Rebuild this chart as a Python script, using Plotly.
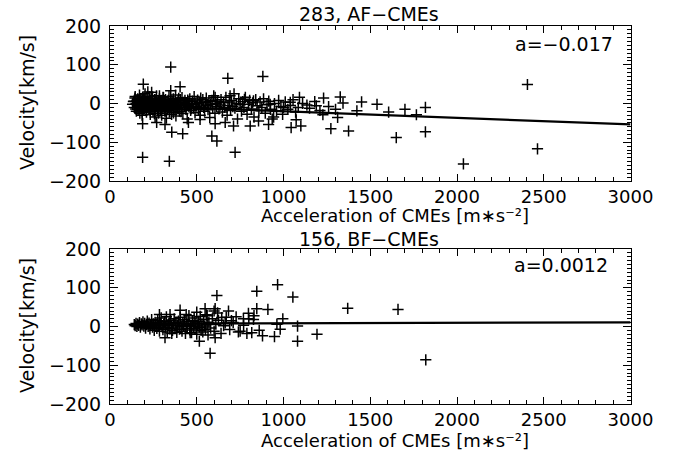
import plotly.graph_objects as go

# ---------------- data ----------------
top_acc = [
    # outliers / sparse points
    350, 679, 881, 192, 350, 404, 240, 285, 144, 192, 523, 606, 692, 775, 827,
    923, 1000, 1039, 1092, 1135, 1189, 1231, 1327, 1343, 1423, 1227, 1273, 1312,
    1375, 1044, 1073, 1100, 943, 914, 808, 856, 712, 664, 587, 616, 721, 188,
    342, 356, 419, 188, 317, 452, 519, 606, 269, 1539, 1606, 1650, 1818, 1818,
    1766, 2037, 2406, 2464, 1450, 1700,
    # dense band
    130, 135, 140, 145, 150, 152, 155, 158, 160, 162, 165, 168, 170, 172, 175,
    178, 180, 182, 185, 188, 190, 192, 195, 198, 200, 202, 205, 208, 210, 212,
    215, 218, 220, 222, 225, 228, 230, 232, 235, 238, 240, 242, 245, 248, 250,
    255, 258, 260, 262, 265, 268, 270, 275, 278, 280, 282, 285, 288, 290, 292,
    295, 298, 300, 305, 308, 310, 315, 318, 320, 322, 325, 328, 330, 335, 338,
    340, 342, 345, 348, 350, 355, 358, 360, 365, 368, 370, 375, 378, 380, 385,
    388, 392, 395, 400, 405, 408, 412, 415, 420, 425, 428, 432, 438, 440, 445,
    450, 455, 460, 465, 470, 475, 480, 485, 490, 495, 500, 505, 510, 515, 520,
    528, 535, 540, 545, 550, 555, 560, 565, 570, 575, 580, 588, 592, 598, 605,
    610, 615, 620, 628, 635, 640, 648, 655, 660, 668, 675, 680, 688, 695, 700,
    708, 715, 720, 728, 735, 742, 750, 758, 765, 772, 780, 790, 798, 805, 815,
    822, 830, 840, 848, 858, 865, 875, 885, 895, 905, 915, 925, 935, 948, 960,
    972, 985, 995, 1010, 1025, 1040, 1055, 1070, 1085, 1110, 1150, 1180, 1210,
    1260, 1300,
    # extra band points
    138, 148, 166, 176, 186, 196, 206, 216, 226, 236, 246, 256, 266, 276, 286,
    296, 306, 316, 326, 336, 346, 356, 366, 376, 386, 396, 410, 430, 448, 468,
]
top_vel = [
    94, 65, 70, 50, 33, 43, 29, 20, 14, 11, 14, 16, 20, 11, 7,
    -2, -10, 3, 16, -4, -6, 14, 17, 1, -19, -29, -65, -36,
    -71, -62, -42, -58, -35, -54, -58, -45, -58, -49, -84, -97, -126, -139,
    -149, -74, -78, -52, -54, -49, -41, -52, -49, -2, -22, -88, -10, -73,
    -29, -156, 49, -117, 4, -15,
    -2, 5, -10, 18, 0, -20, 8, -5, 12, -15, 3, -8, 22, -25, -2,
    10, -12, 5, -30, 15, -4, 0, -18, 8, -8, 25, -3, 12, -22, 2,
    -10, 30, -5, 6, -15, 18, -1, -28, 9, -7, 3, -12, 14, -20, 0,
    -6, 10, -35, 4, -9, 20, -3, -15, 7, -25, 1, 12, -8, -18, 5,
    -2, -30, 8, -12, 15, -5, 2, -20, 10, -8, -38, 3, -14, 6, -4,
    18, -22, 0, -10, 8, -28, 4, -6, 12, -16, 0, -8, 22, -32, 2,
    -12, 7, -4, -20, 10, -2, -10, 15, -26, 3, -6, 8, -15, 0, -40,
    5, -8, 12, -18, -3, 6, -12, 18, -24, 0, -7, 9, -15, 3, -30,
    -4, 10, -10, -20, 2, 14, -6, -16, 5, -36, -2, 8, -12, 20, -25,
    0, -8, 6, -14, -4, 10, -22, 2, -10, 16, -30, -5, 4, -18, 8,
    -8, 25, -12, 0, -40, 12, -3, -20, 5, -10, 16, -28, -2, 8, -14,
    2, -35, 10, -6, -18, 4, -10, 12, -25, -3, 6, -15, -40, 0, -20,
    8, -8, -28, 4, -15, -5, 10, -22, -10, 0, -12, 5, -18,
    -8, -15,
    6, -14, 9, -6, -22, 13, -10, 4, -17, 7, -1, -26, 11, -13, 2,
    -9, 16, -19, -3, 8, -11, 1, -24, 5, -7, 13, -21, -4, 9, -13,
]

bot_acc = [
    # outliers / sparse points
    966, 846, 1054, 616, 1370, 1660, 1193, 1081, 577, 515, 606, 317, 356, 879,
    948, 846, 910, 996, 1081, 981, 962, 827, 798, 769, 727, 683, 606, 548, 500,
    404, 439, 346, 285, 644, 664, 817, 789, 750, 462, 1820, 700, 620, 600, 560,
    # dense band
    140, 145, 150, 155, 160, 165, 170, 175, 180, 185, 190, 195, 200, 205, 210,
    215, 220, 225, 230, 235, 240, 245, 250, 255, 260, 265, 270, 275, 280, 285,
    290, 295, 300, 305, 310, 315, 320, 325, 330, 335, 340, 345, 350, 355, 360,
    365, 370, 375, 380, 385, 390, 395, 400, 405, 410, 415, 420, 425, 430, 435,
    440, 445, 450, 455, 460, 465, 470, 475, 480, 485, 490, 495, 500, 505, 510,
    515, 520, 525, 530, 535, 540, 545, 550, 555, 560, 565, 570, 580, 590, 600,
    610, 625, 640, 655, 670, 690, 710, 740, 770, 800, 830, 860,
]
bot_vel = [
    108, 91, 76, 80, 47, 44, -20, -38, -69, -38, -29, -29, -18, -24,
    -26, 46, 44, 20, 1, -7, 6, 18, 34, 20, 25, 40, 46, 46, 37,
    42, 31, 31, 31, 23, 9, -16, -18, -12, -16, -86, 15, 35, 40, 28,
    5, 2, 8, 0, 6, 3, 10, -2, 7, 4, 12, 1, 8, -4, 5,
    14, 0, 9, -6, 3, 18, -2, 7, -10, 11, 2, -5, 15, 4, -12,
    8, 22, 1, -8, 6, 12, -3, 25, -14, 5, 9, -6, 16, 2, -10,
    7, 20, -4, 10, -15, 3, 14, -7, 24, 0, -12, 8, 2, 18, -18,
    6, -5, 12, 28, -9, 3, -16, 15, 0, 22, -6, 9, -20, 4, 13,
    -2, 26, -10, 7, -14, 18, 1, -8, 30, 5, -22, 11, -4, 20, -12,
    6, 16, -18, 2, 24, -8, 10, -14, 3, 20, 28, -10, -20, 12,
    -6, 24, 8, -12, 15, 30, 2, -16, 12, 26, 5, -20,
]

top_fit = (-3.0, -0.017)   # intercept, slope
bot_fit = (7.0, 0.0012)

x_ticks = [0, 500, 1000, 1500, 2000, 2500, 3000]
y_ticks = [-200, -100, 0, 100, 200]
y_tick_text = ["\u2212200", "\u2212100", "0", "100", "200"]

# ---------------- figure ----------------
FONT = "DejaVu Sans"
FS = 19
FSX = 18
fig = go.Figure()

marker = dict(symbol="cross-thin", size=8, color="black",
              line=dict(color="black", width=1.5))

for acc, vel, fit, xa, ya in [(top_acc, top_vel, top_fit, "x", "y"),
                              (bot_acc, bot_vel, bot_fit, "x2", "y2")]:
    fig.add_trace(go.Scatter(x=acc, y=vel, mode="markers", marker=marker,
                             xaxis=xa, yaxis=ya, showlegend=False,
                             hoverinfo="skip"))
    x0 = min(acc)
    x1 = 3000
    fig.add_trace(go.Scatter(x=[x0, x1], y=[fit[0] + fit[1] * x0, fit[0] + fit[1] * x1],
                             mode="lines", line=dict(color="black", width=2.2),
                             xaxis=xa, yaxis=ya, showlegend=False,
                             hoverinfo="skip"))

W, H = 678, 452
xdom = [110 / W, 630.5 / W]
top_dom = [1 - 181 / H, 1 - 26 / H]
bot_dom = [1 - 404 / H, 1 - 249 / H]

def xaxis(anchor):
    return dict(domain=xdom, range=[0, 3000], anchor=anchor,
                tickmode="array", tickvals=x_ticks,
                ticktext=[str(v) for v in x_ticks],
                ticks="inside", ticklen=7, tickwidth=1, tickcolor="black",
                minor=dict(dtick=100, ticks="inside", ticklen=4,
                           tickwidth=1, tickcolor="black"),
                showline=True, linecolor="black", linewidth=1,
                mirror="allticks", showgrid=False, zeroline=False,
                automargin=False, ticklabelstandoff=-1,
                tickfont=dict(family=FONT, size=FSX, color="black"))

def yaxis(anchor, dom):
    return dict(domain=dom, range=[-200, 200], anchor=anchor,
                tickmode="array", tickvals=y_ticks, ticktext=y_tick_text,
                ticks="inside", ticklen=8, tickwidth=1, tickcolor="black",
                minor=dict(dtick=10, ticks="inside", ticklen=4,
                           tickwidth=1, tickcolor="black"),
                showline=True, linecolor="black", linewidth=1,
                mirror="allticks", showgrid=False, zeroline=False,
                automargin=False, ticklabelstandoff=4,
                tickfont=dict(family=FONT, size=FS, color="black"))

fig.update_layout(
    width=W, height=H,
    margin=dict(l=0, r=0, t=0, b=0, autoexpand=False),
    paper_bgcolor="white", plot_bgcolor="white",
    xaxis=xaxis("y"), yaxis=yaxis("x", top_dom),
    xaxis2=xaxis("y2"), yaxis2=yaxis("x2", bot_dom),
    font=dict(family=FONT, size=FS, color="black"),
)

xtitle = "Acceleration of CMEs [m\u2217s\u207b\u00b2]"
ann = [
    dict(text="283, AF\u2212CMEs", x=369 / W, y=1 - 14 / H),
    dict(text="156, BF\u2212CMEs", x=369 / W, y=1 - 239 / H),
    dict(text=xtitle, x=395 / W, y=1 - 227 / H, yanchor="bottom", size=FSX),
    dict(text=xtitle, x=395 / W, y=1 - 452 / H, yanchor="bottom", size=FSX),
    dict(text="Velocity[km/s]", x=27 / W, y=1 - 103 / H, textangle=-90),
    dict(text="Velocity[km/s]", x=27 / W, y=1 - 326 / H, textangle=-90),
    dict(text="a=\u22120.017", x=614 / W, y=1 - 44 / H, xanchor="right"),
    dict(text="a=0.0012", x=609 / W, y=1 - 265 / H, xanchor="right"),
]
for a in ann:
    a.setdefault("xanchor", "center")
    a.setdefault("yanchor", "middle")
    size = a.pop("size", FS)
    fig.add_annotation(xref="paper", yref="paper", showarrow=False,
                       borderpad=0,
                       font=dict(family=FONT, size=size, color="black"), **a)

fig.write_html("out.html",
               config={"displayModeBar": False},
               post_script="document.body.style.margin='0';")
